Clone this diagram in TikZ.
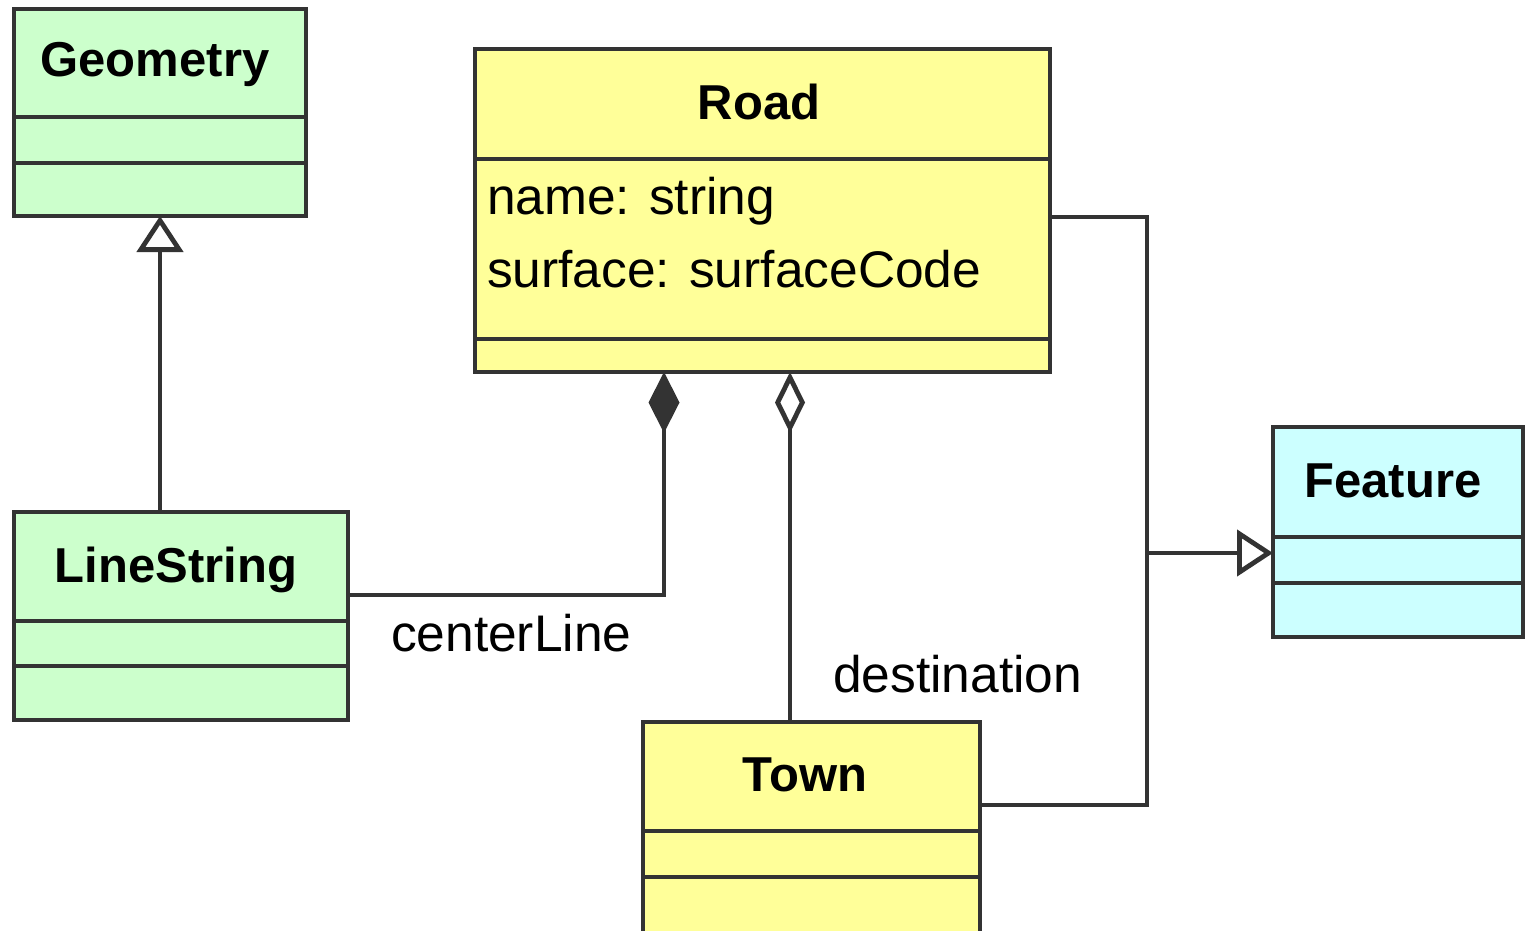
\documentclass[tikz,border=0pt]{standalone}
\usepackage{fontspec}
\setmainfont{Liberation Sans}
\usetikzlibrary{arrows.meta}
\definecolor{geomgreen}{HTML}{CCFFCC}
\definecolor{roadyellow}{HTML}{FFFF99}
\definecolor{featcyan}{HTML}{CCFFFF}
\definecolor{linegray}{HTML}{333333}
\tikzset{
  cls/.style={draw=linegray, line width=4.8pt, rectangle, inner sep=0pt, outer sep=0pt, anchor=north west},
  divider/.style={draw=linegray, line width=4.8pt},
  title/.style={inner sep=0pt, outer sep=0pt, anchor=base, font=\fontsize{49}{56}\selectfont\bfseries},
  attr/.style={inner sep=0pt, outer sep=0pt, anchor=base west, font=\fontsize{51.5}{60}\selectfont},
  conn/.style={draw=linegray, line width=4.8pt},
  gen/.style={conn, -{Triangle[open, length=36pt, width=46pt]}},
  comp/.style={conn, {Diamond[length=61pt, width=31pt]}-},
  aggr/.style={conn, {Diamond[open, length=61pt, width=30pt]}-},
}
\begin{document}
\begin{tikzpicture}[x=1pt, y=-1pt]
\useasboundingbox (0,0) rectangle (1526,930);
\clip (0,0) rectangle (1526,930);
\fill[white] (0,0) rectangle (1526,930);

% class boxes
\node[cls, fill=geomgreen, minimum width=292pt, minimum height=207pt] (geom) at (14,9) {};
\node[cls, fill=roadyellow, minimum width=575pt, minimum height=323pt] (road) at (475,49) {};
\node[cls, fill=geomgreen, minimum width=334pt, minimum height=208pt] (ls) at (14,512) {};
\node[cls, fill=featcyan, minimum width=250pt, minimum height=210pt] (feat) at (1273,427) {};
\node[cls, fill=roadyellow, minimum width=337pt, minimum height=260pt] (town) at (643,722) {};

% compartment dividers
\coordinate (g1) at (0,117); \coordinate (g2) at (0,163);
\coordinate (r1) at (0,159); \coordinate (r2) at (0,339);
\coordinate (l1) at (0,621); \coordinate (l2) at (0,666);
\coordinate (f1) at (0,537); \coordinate (f2) at (0,583);
\coordinate (t1) at (0,831); \coordinate (t2) at (0,877);
\draw[divider] (geom.west |- g1) -- (geom.east |- g1);
\draw[divider] (geom.west |- g2) -- (geom.east |- g2);
\draw[divider] (road.west |- r1) -- (road.east |- r1);
\draw[divider] (road.west |- r2) -- (road.east |- r2);
\draw[divider] (ls.west |- l1) -- (ls.east |- l1);
\draw[divider] (ls.west |- l2) -- (ls.east |- l2);
\draw[divider] (feat.west |- f1) -- (feat.east |- f1);
\draw[divider] (feat.west |- f2) -- (feat.east |- f2);
\draw[divider] (town.west |- t1) -- (town.east |- t1);
\draw[divider] (town.west |- t2) -- (town.east |- t2);

% titles and attributes
\node[title] (geomT) at (155,76) {Geometry};
\node[title] (roadT) at (759,119) {Road};
\node[attr] (roadA1) at (487,214) {name: string};
\node[attr] (roadA2) at (487,287) {surface: surfaceCode};
\node[title] (lsT) at (176,582) {LineString};
\node[title] (featT) at (1393,497) {Feature};
\node[title] (townT) at (805,791) {Town};

% connector coordinates
\coordinate (gx) at (160,0);
\coordinate (cx) at (664,0);
\coordinate (cy) at (0,595);
\coordinate (ax) at (790,0);
\coordinate (b1) at (1147,217);
\coordinate (b2) at (1147,805);
\coordinate (b3) at (1147,553);

% LineString generalizes Geometry
\draw[gen] (ls.north -| gx) -- (geom.south -| gx);
% composition Road - LineString
\draw[comp] (road.south -| cx) -- (cx |- cy) -- (ls.east |- cy);
% aggregation Road - Town
\draw[aggr] (road.south -| ax) -- (town.north -| ax);
% Road and Town generalize Feature
\draw[conn] (road.east |- b1) -- (b1) -- (b2) -- (town.east |- b2);
\draw[gen] (b3) -- (feat.west |- b3);

% role labels
\node[attr] (lblCenter) at (391,651) {centerLine};
\node[attr] (lblDest) at (833,692) {destination};
\end{tikzpicture}
\end{document}
